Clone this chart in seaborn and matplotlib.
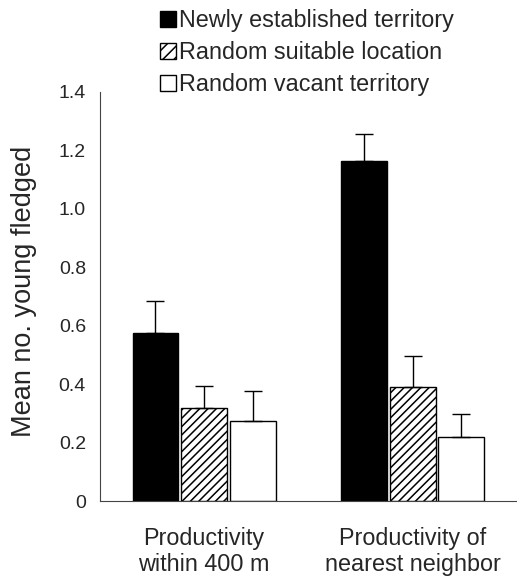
import seaborn as sns
import pandas as pd
import matplotlib.pyplot as plt
from matplotlib.patches import Patch

# values
groups = ['Productivity\nwithin 400 m', 'Productivity of\nnearest neighbor']
sites = ['Newly established territory', 'Random suitable location', 'Random vacant territory']
means_400m = [0.575, 0.318, 0.274]
means_nn = [1.164, 0.390, 0.219]
se_400m = [0.110, 0.076, 0.103]
se_nn = [0.092, 0.106, 0.079]

df = pd.DataFrame({
    'group': [groups[0]] * 3 + [groups[1]] * 3,
    'site': sites * 2,
    'mean': means_400m + means_nn,
    'se': se_400m + se_nn,
})

sns.set_style('white')
plt.rcParams['font.family'] = ['Liberation Sans', 'DejaVu Sans']
plt.rcParams['hatch.linewidth'] = 1.1

fig = plt.figure(figsize=(5.17, 5.77), dpi=100)
ax = fig.add_axes([0.193, 0.1317, 0.807, 0.709])

fills = ['black', 'white', 'white']
hatches = ['', '////', '']

sns.barplot(data=df, x='group', y='mean', hue='site', hue_order=sites,
            palette=fills, edgecolor='black', linewidth=1.0,
            width=0.7, gap=0.06, errorbar=None, legend=False, ax=ax)

# hatch + error bars (upper only) from the drawn bars
bar_sets = list(ax.containers)
for i, cont in enumerate(bar_sets):
    sub = df[df['site'] == sites[i]]
    xs, tops = [], []
    for bar in cont:
        bar.set_hatch(hatches[i])
        xs.append(bar.get_x() + bar.get_width() / 2)
        tops.append(bar.get_height())
    ax.errorbar(xs, tops, yerr=[[0] * len(xs), list(sub['se'])], fmt='none',
                ecolor='black', elinewidth=1.0, capsize=6.5, capthick=1.0, zorder=1)

ax.set_ylim(0, 1.4)
ax.set_xlim(-0.5, 1.5)
ax.set_yticks([0, 0.2, 0.4, 0.6, 0.8, 1.0, 1.2, 1.4])
ax.set_yticklabels(['0', '0.2', '0.4', '0.6', '0.8', '1.0', '1.2', '1.4'])
ax.set_xticks([0, 1])
ax.set_xticklabels(groups)
ax.set_xticks([-0.5, 0.5, 1.5], minor=True)
ax.tick_params(axis='x', which='major', length=0, pad=18.5, labelsize=16.8)
ax.tick_params(axis='x', which='minor', length=5, width=0.8, direction='out', color='#555555')
ax.tick_params(axis='y', length=4, width=0.8, direction='out', labelsize=14, pad=6)
ax.set_xlabel('')
ax.set_ylabel('Mean no. young fledged', fontsize=19.5)
ax.yaxis.set_label_coords(-0.15, 0.512)

for s in ['top', 'right']:
    ax.spines[s].set_visible(False)
for s in ['left', 'bottom']:
    ax.spines[s].set_color('#444444')
    ax.spines[s].set_linewidth(0.8)

handles = [Patch(facecolor=fills[i], edgecolor='black', hatch=hatches[i].replace('////', '///'),
                 linewidth=1.0) for i in range(3)]
fig.legend(handles, sites, loc='upper left', bbox_to_anchor=(0.309, 0.984),
           frameon=False, fontsize=16.8, handlelength=0.68, handleheight=0.68,
           handletextpad=0.15, labelspacing=0.38, borderaxespad=0, borderpad=0)

fig.savefig('out.png', dpi=100)
